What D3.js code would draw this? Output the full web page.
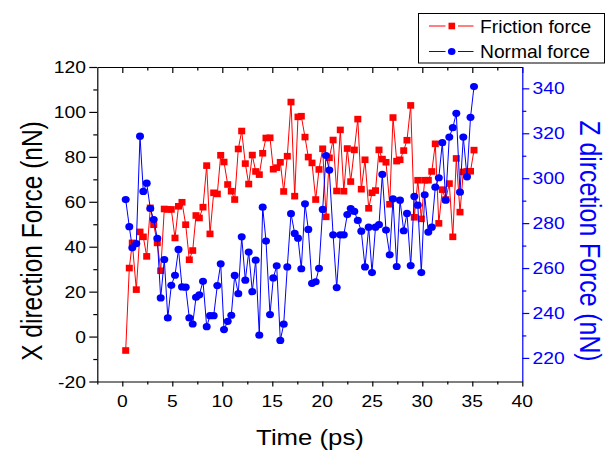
<!DOCTYPE html>
<html><head><meta charset="utf-8">
<script src="https://cdn.jsdelivr.net/npm/d3@7"></script>
<style>body{margin:0;background:#fff}svg{display:block}text{font-family:"Liberation Sans",Arial,sans-serif}</style>
</head><body>
<svg id="c" width="612" height="450"></svg>
<script>
const time = [0.34,0.7,1.0,1.4,1.77,2.1,2.44,2.8,3.14,3.5,3.84,4.2,4.55,4.9,5.27,5.62,5.97,6.34,6.7,7.04,7.37,7.7,8.07,8.44,8.77,9.14,9.5,9.84,10.17,10.54,10.9,11.24,11.6,11.94,12.3,12.64,13.0,13.34,13.7,14.04,14.37,14.77,15.1,15.44,15.8,16.14,16.5,16.87,17.24,17.57,17.9,18.27,18.6,18.97,19.34,19.67,20.04,20.37,20.7,21.08,21.44,21.8,22.15,22.5,22.84,23.2,23.55,23.9,24.27,24.64,24.97,25.32,25.67,26.0,26.37,26.74,27.07,27.44,27.77,28.14,28.47,28.84,29.2,29.55,29.9,30.24,30.6,30.95,31.3,31.65,32.0,32.34,32.7,33.05,33.4,33.77,34.1,34.47,34.82,35.17];
const friction = [-6.2,30.5,41.7,20.9,46.6,44.4,35.7,57.3,49.8,41.7,29.3,56.8,56.6,56.6,43.9,58.0,59.8,49.8,34.2,38.3,53.9,52.8,57.6,76.1,45.7,64.0,63.5,80.7,77.7,67.7,64.7,61.0,83.5,91.5,77.0,67.9,80.8,73.5,72.1,81.6,88.4,88.5,74.5,75.2,77.6,64.6,80.3,104.4,62.5,97.8,98.1,88.8,79.9,77.3,61.0,74.4,83.6,53.3,79.6,87.5,64.8,92.0,64.7,83.7,69.0,83.1,96.8,65.6,78.7,57.1,64.0,65.0,83.1,79.0,77.6,58.9,97.5,78.1,78.7,82.8,87.4,102.9,53.1,69.6,52.4,69.6,69.6,73.5,85.8,50.4,65.4,61.0,68.1,44.4,79.3,55.4,73.3,73.5,73.6,83.0];
const normal = [290.5,278.4,269.0,270.9,318.7,294.1,297.8,286.5,281.6,273.2,246.7,263.8,237.8,252.3,256.8,268.3,251.6,251.5,237.8,235.1,247.0,248.1,254.1,233.9,238.8,238.8,252.2,261.9,232.6,236.3,239.0,256.7,248.6,273.9,254.6,267.1,249.5,263.5,230.1,287.1,272.0,239.3,255.6,261.0,227.8,235.0,260.5,284.2,275.4,273.3,259.7,288.6,277.2,253.2,253.9,259.9,286.1,310.1,303.6,274.8,251.3,274.8,274.8,283.8,286.5,285.2,281.2,276.4,260.5,278.2,258.0,278.2,279.3,301.7,276.9,265.9,290.8,260.7,290.2,276.6,284.3,261.1,291.9,288.0,258.0,292.6,276.0,278.2,296.0,300.2,315.8,290.2,318.3,322.5,328.9,293.8,318.3,300.6,327.1,340.8];
const xTicks = [0,5,10,15,20,25,30,35,40];
const xMinor = [-2.5,2.5,7.5,12.5,17.5,22.5,27.5,32.5,37.5];
const yLTicks = [-20,0,20,40,60,80,100,120];
const yLMinor = [-10,10,30,50,70,90,110];
const yRTicks = [220,240,260,280,300,320,340];
const yRMinor = [230,250,270,290,310,330];
const seriesNames = ["Friction force","Normal force"];
const xTitle = "Time (ps)";
const yLTitle = "X direction Force (nN)";
const yRTitle = "Z dircetion Force (nN)";

const SX = 1.17;
const svg = d3.select("#c");
const L = 97.3, R = 522.3, T = 67, B = 381.5;
const x = d3.scaleLinear().domain([-2.5, 40]).range([L, R]);
const yL = d3.scaleLinear().domain([-20, 120]).range([B, T]);
const yR = d3.scaleLinear().domain([209.5, 349.5]).range([B, T]);
const RED = "#ff0000", BLUE = "#0000ff";

function styleAxis(g, color) {
  g.selectAll("path").attr("stroke", color).attr("stroke-width", 1.2);
  g.selectAll("line").attr("stroke", color).attr("stroke-width", 1.2);
  g.selectAll("text").remove();
}
svg.append("g").attr("transform", `translate(0,${B})`)
  .call(d3.axisBottom(x).tickValues(xTicks).tickSize(5).tickSizeOuter(0).tickFormat(""))
  .call(g => styleAxis(g, "#000"));
svg.append("g").attr("transform", `translate(0,${B})`)
  .call(d3.axisBottom(x).tickValues(xMinor).tickSize(3).tickSizeOuter(0).tickFormat(""))
  .call(g => { styleAxis(g, "#000"); g.select("path").remove(); });
svg.append("g").attr("transform", `translate(0,${T})`)
  .call(d3.axisBottom(x).tickValues(xTicks).tickSize(6).tickSizeOuter(0).tickFormat(""))
  .call(g => styleAxis(g, "#000"));
svg.append("g").attr("transform", `translate(0,${T})`)
  .call(d3.axisBottom(x).tickValues(xMinor.filter(v => v > -2)).tickSize(3.5).tickSizeOuter(0).tickFormat(""))
  .call(g => { styleAxis(g, "#000"); g.select("path").remove(); });
svg.append("g").attr("transform", `translate(${L},0)`)
  .call(d3.axisLeft(yL).tickValues(yLTicks).tickSize(8).tickSizeOuter(0).tickFormat(""))
  .call(g => styleAxis(g, "#000"));
svg.append("g").attr("transform", `translate(${L},0)`)
  .call(d3.axisLeft(yL).tickValues(yLMinor).tickSize(4).tickSizeOuter(0).tickFormat(""))
  .call(g => { styleAxis(g, "#000"); g.select("path").remove(); });
svg.append("g").attr("transform", `translate(${R},0)`)
  .call(d3.axisRight(yR).tickValues(yRTicks).tickSize(7).tickSizeOuter(0).tickFormat(""))
  .call(g => styleAxis(g, BLUE));
svg.append("g").attr("transform", `translate(${R},0)`)
  .call(d3.axisRight(yR).tickValues(yRMinor).tickSize(4).tickSizeOuter(0).tickFormat(""))
  .call(g => { styleAxis(g, BLUE); g.select("path").remove(); });

function stext(px, py, str, size, anchor, color, rot, sx) {
  return svg.append("text")
    .attr("transform", `translate(${px},${py}) scale(${sx || SX},1)` + (rot ? ` rotate(${rot})` : ""))
    .attr("text-anchor", anchor).attr("font-size", size).attr("fill", color).text(str);
}
xTicks.forEach(v => stext(x(v), 407, String(v), 16.5, "middle", "#000"));
yLTicks.forEach(v => stext(86, yL(v) + 6, String(v), 16.5, "end", "#000"));
yRTicks.forEach(v => stext(532.5, yR(v) + 6, String(v), 16.5, "start", BLUE));

stext(310, 445, xTitle, 23, "middle", "#000", 0, 1.12);
stext(42, 241, yLTitle, 24.5, "middle", "#000", -90);
stext(580, 241, yRTitle, 24.8, "middle", BLUE, 90);

const fr = time.map((t, i) => [t, friction[i]]);
const nr = time.map((t, i) => [t, normal[i]]);
svg.append("path").datum(fr).attr("fill", "none").attr("stroke", RED).attr("stroke-width", 1)
  .attr("d", d3.line().x(d => x(d[0])).y(d => yL(d[1])));
svg.append("g").selectAll("rect").data(fr).join("rect")
  .attr("x", d => x(d[0]) - 3.5).attr("y", d => yL(d[1]) - 3.3).attr("width", 7).attr("height", 6.6)
  .attr("fill", RED);
svg.append("path").datum(nr).attr("fill", "none").attr("stroke", BLUE).attr("stroke-width", 1)
  .attr("d", d3.line().x(d => x(d[0])).y(d => yR(d[1])));
svg.append("g").selectAll("ellipse").data(nr).join("ellipse")
  .attr("cx", d => x(d[0])).attr("cy", d => yR(d[1])).attr("rx", 4).attr("ry", 3.6)
  .attr("fill", BLUE);

const lg = svg.append("g");
lg.append("rect").attr("x", 418.5).attr("y", 13.5).attr("width", 186).attr("height", 49.5)
  .attr("fill", "#fff").attr("stroke", "#000").attr("stroke-width", 1);
[[RED, 26, "rect"], [BLUE, 51.5, "circle"]].forEach(([col, ly, shape], i) => {
  lg.append("line").attr("x1", 429).attr("x2", 445.5).attr("y1", ly).attr("y2", ly).attr("stroke", col);
  lg.append("line").attr("x1", 458).attr("x2", 473.5).attr("y1", ly).attr("y2", ly).attr("stroke", col);
  if (shape === "rect") lg.append("rect").attr("x", 448.5).attr("y", ly - 3.3).attr("width", 6.6).attr("height", 6.6).attr("fill", col);
  else lg.append("ellipse").attr("cx", 451.7).attr("cy", ly).attr("rx", 3.8).attr("ry", 3.5).attr("fill", col);
  stext(480, ly + 6.5, seriesNames[i], 17.5, "start", "#000", 0, 1.1);
});
</script>
</body></html>
